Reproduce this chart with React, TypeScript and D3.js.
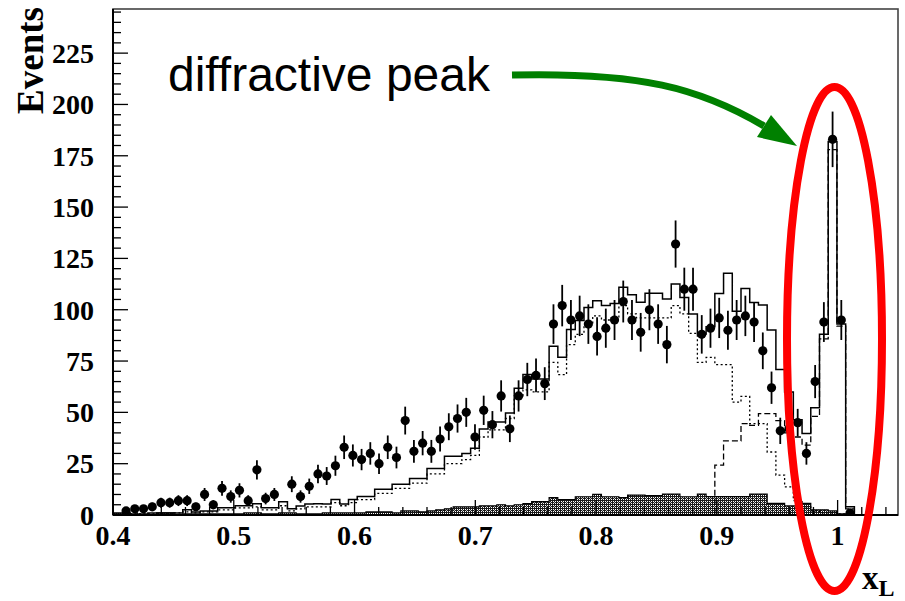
import React from 'react';
import * as d3 from 'd3';

// Histogram binning along x_L
const X_MIN = 0.4;
const X_MAX = 1.05;
const N_BINS = 90;

// Measured events per bin (null = no entry drawn)
const dataCounts: (number | null)[] = [
  null, 2, 3, 3, 4, 6, 6, 7, 7, 4,
  10, 5, 13, 9, 12, 7, 22, 8, 10, null,
  15, 9, 14, 20, 19, 24, 33, 29, 27, 30,
  25, 33, 28, 46, 31, 35, 31, 37, 43, 47,
  50, 38, 51, 44, 58, 42, 58, 66, 68, 64,
  93, 102, 95, 97, 93, 87, 91, 95, 104, 95,
  89, 100, 93, 83, 132, 110, 110, 88, 91, 96,
  90, 95, 97, 94, 80, 62, 41, 42, 45, 30,
  65, 94, 183, 95, 1, null, null, null, null, null,
];

// Total Monte Carlo prediction (solid)
const totalMC: number[] = [
  0.5, 0.5, 0.5, 0.5, 1, 1, 1, 1, 2.5, 1.5,
  2, 2, 3.5, 3.5, 4.5, 4.5, 5.5, 3.5, 3.5, 6.5,
  3, 4.4, 5.3, 5.5, 5.3, 7.6, 5.3, 7.6, 9, 9,
  12.5, 12.5, 15, 15, 17.8, 17.8, 22.7, 22.7, 28.6, 28.6,
  30, 32.5, 41.9, 45.3, 45.3, 49.7, 61.8, 68.4, 66.3, 66.3,
  82.2, 76.8, 90.4, 94.7, 101.1, 104.4, 102, 103, 111, 107.3,
  103.6, 108, 108, 105.2, 112.5, 106, 97.9, 88.2, 91.7, 107.9,
  117.8, 99.2, 110.3, 103.5, 102.3, 90.1, 70.9, 59.9, 46.4, 39.7,
  52.3, 88, 182, 93, 4, 0, 0, 0, 0, 0,
];

// Non-diffractive component (dotted)
const nonDiffMC: number[] = [
  0, 0, 0.5, 0.5, 0.5, 0.5, 0.5, 1, 1.5, 1,
  1.5, 1.5, 2.5, 2.5, 3.5, 3.5, 4, 2.5, 2.5, 4.5,
  2, 3, 4, 4, 4, 6, 4.5, 6, 7.5, 7.5,
  10.5, 10.5, 13, 13, 15.5, 15.5, 20, 20, 25, 25,
  27, 29, 38, 41.5, 41.5, 47, 58, 61, 60, 60,
  74.4, 68.4, 83, 88, 93, 97, 95, 96, 102, 98,
  96, 96, 96, 96, 102, 98, 88.5, 74.4, 76.8, 73.3,
  73.3, 55, 57.8, 44.5, 44.5, 30.7, 19.4, 13.7, 7, 4,
  2, 1, 1, 0.5, 0, 0, 0, 0, 0, 0,
];

// Diffractive component (dashed)
const diffMC: number[] = [
  0, 0, 0, 0, 0, 0, 0, 0, 0, 0,
  0, 0, 0, 0, 0, 0, 0, 0, 0, 0,
  0, 0, 0, 0, 0, 0, 0, 0, 0, 0,
  0, 0, 0, 0, 0, 0, 0, 0, 0, 0,
  0, 0, 0, 0, 0, 0, 0, 0, 0, 0,
  0, 0, 0, 0, 0, 0, 0, 0, 0, 0,
  0, 0, 0, 0, 0, 0, 0, 0, 0, 24.3,
  36.1, 36.1, 44.5, 43.7, 49.4, 49.4, 46, 40, 38, 34,
  48, 85.8, 178, 92, 3, 0, 0, 0, 0, 0,
];

// Background (hatched)
const bgMC: number[] = [
  1, 1, 0, 0, 0, 1, 1, 0, 0.5, 0.5,
  0.5, 0.5, 0.5, 0.5, 0.5, 1, 1, 0.5, 0.5, 1,
  1, 0.5, 0.5, 0.5, 1, 1, 1, 1, 1, 1.5,
  1.5, 1.5, 1, 2, 2, 1.5, 2, 2.5, 3, 4,
  4, 4, 4.5, 4.5, 5, 4.5, 5, 5.5, 6.5, 6.5,
  8.5, 7.5, 7.5, 8.9, 8.9, 10, 8.9, 8.9, 8.5, 9.7,
  9.7, 9.4, 9.4, 10.2, 10.2, 8.9, 8.9, 10.2, 9, 9,
  9, 9, 9, 10.2, 10.2, 5.7, 5.7, 4.4, 4.4, 5.7,
  2.5, 2.5, 2, 0.5, 0, 0, 0, 0, 0, 0,
];

const yMajorTicks = [0, 25, 50, 75, 100, 125, 150, 175, 200, 225];
const xMajorTicks = [0.4, 0.5, 0.6, 0.7, 0.8, 0.9, 1.0];
const xTickLabels = ['0.4', '0.5', '0.6', '0.7', '0.8', '0.9', '1'];

const W = 905;
const H = 601;
const left = 113;
const right = 898;
const top = 9;
const bottom = 515;

const x = d3.scaleLinear().domain([X_MIN, X_MAX]).range([left, right]);
const y = d3.scaleLinear().domain([0, 246.5]).range([bottom, top]);

const binW = (X_MAX - X_MIN) / N_BINS;
const edges = d3.range(N_BINS + 1).map((i) => X_MIN + i * binW);

function stepPath(vals: number[]): string {
  const pts: [number, number][] = [[edges[0], 0]];
  vals.forEach((v, i) => pts.push([edges[i], v]));
  pts.push([edges[N_BINS], vals[N_BINS - 1]]);
  pts.push([edges[N_BINS], 0]);
  return (
    d3
      .line<[number, number]>()
      .x((d) => x(d[0]))
      .y((d) => y(d[1]))
      .curve(d3.curveStepAfter)(pts) || ''
  );
}

const serif = '"Liberation Serif", "Times New Roman", serif';
const sans = '"Liberation Sans", Arial, sans-serif';

export default function App() {
  const yMinor = d3.range(0, 246, 5);
  const xMinor = d3.range(0, 33).map((i) => X_MIN + i * 0.02).filter((v) => v <= X_MAX);

  return (
    <svg
      width={W}
      height={H}
      viewBox={`0 0 ${W} ${H}`}
      style={{ position: 'absolute', left: 0, top: 0, background: '#fff' }}
    >
      <defs>
        <pattern id="hatch" width="4" height="4" patternUnits="userSpaceOnUse">
          <rect width="4" height="4" fill="#1a1a1a" />
          <rect x="1" y="1" width="1" height="1" fill="#fff" />
          <rect x="3" y="3" width="1" height="1" fill="#fff" />
          <rect x="1" y="3" width="1" height="1" fill="#fff" />
          <rect x="3" y="1" width="1" height="1" fill="#fff" />
          <rect x="2" y="2" width="1" height="1" fill="#bbb" />
        </pattern>
        <clipPath id="plot">
          <rect x={left} y={top} width={right - left} height={bottom - top} />
        </clipPath>
      </defs>

      <rect x={0} y={0} width={W} height={H} fill="#fff" />

      <g clipPath="url(#plot)">
        {/* background */}
        <path d={stepPath(bgMC)} fill="url(#hatch)" stroke="#000" strokeWidth={1.2} />
        {/* non-diffractive */}
        <path d={stepPath(nonDiffMC)} fill="none" stroke="#000" strokeWidth={1.3} strokeDasharray="2,2.5" />
        {/* diffractive */}
        <path d={stepPath(diffMC)} fill="none" stroke="#000" strokeWidth={1.3} strokeDasharray="6,3" />
        {/* total */}
        <path d={stepPath(totalMC)} fill="none" stroke="#000" strokeWidth={1.5} />

        {/* data with Poisson errors */}
        {dataCounts.map((v, i) => {
          if (v === null) return null;
          const cx = x(X_MIN + (i + 0.5) * binW);
          const err = Math.sqrt(v);
          return (
            <g key={i}>
              <line x1={cx} x2={cx} y1={y(v - err)} y2={y(v + err)} stroke="#000" strokeWidth={1.8} />
              <circle cx={cx} cy={y(v)} r={4.6} fill="#000" />
            </g>
          );
        })}
      </g>

      {/* frame */}
      <rect x={left} y={top} width={right - left} height={bottom - top} fill="none" stroke="#444" strokeWidth={1.6} />
      <line x1={left} x2={left} y1={top} y2={bottom} stroke="#000" strokeWidth={2} />
      <line x1={left} x2={right} y1={bottom} y2={bottom} stroke="#000" strokeWidth={2} />

      {/* y ticks */}
      {yMinor.map((v) => {
        const major = v % 25 === 0;
        return (
          <line
            key={'ym' + v}
            x1={left}
            x2={left + (major ? 15 : 8)}
            y1={y(v)}
            y2={y(v)}
            stroke="#000"
            strokeWidth={1.3}
          />
        );
      })}
      {yMajorTicks.map((v) => (
        <text
          key={'yl' + v}
          x={94}
          y={y(v)}
          dy="0.35em"
          textAnchor="end"
          fontFamily={serif}
          fontWeight="bold"
          fontSize={28}
          fill="#000"
        >
          {v}
        </text>
      ))}

      {/* x ticks */}
      {xMinor.map((v, i) => {
        const major = i % 5 === 0;
        return (
          <line
            key={'xm' + i}
            x1={x(v)}
            x2={x(v)}
            y1={bottom}
            y2={bottom - (major ? 15 : 8)}
            stroke="#000"
            strokeWidth={1.3}
          />
        );
      })}
      {xMajorTicks.map((v, i) => (
        <text
          key={'xl' + i}
          x={x(v)}
          y={545}
          textAnchor="middle"
          fontFamily={serif}
          fontWeight="bold"
          fontSize={28}
          fill="#000"
        >
          {xTickLabels[i]}
        </text>
      ))}

      {/* axis titles */}
      <text
        transform="translate(43,7) rotate(-90)"
        textAnchor="end"
        fontFamily={serif}
        fontWeight="bold"
        fontSize={37}
        fill="#000"
      >
        Events
      </text>
      <text x={862} y={589} fontFamily={serif} fontWeight="bold" fontSize={33} fill="#000">
        x
        <tspan dy={7} fontSize={24}>L</tspan>
      </text>

      {/* annotation */}
      <ellipse cx={834.5} cy={339} rx={47.5} ry={252} fill="none" stroke="#ff0000" strokeWidth={8} />
      <path d="M 512 75 C 640 72, 700 88, 764 126" fill="none" stroke="#008000" strokeWidth={7} />
      <polygon points="797,146 757,137 771,115" fill="#008000" />
      <text x={168} y={91} fontFamily={sans} fontSize={48} fill="#000">
        diffractive peak
      </text>
    </svg>
  );
}
